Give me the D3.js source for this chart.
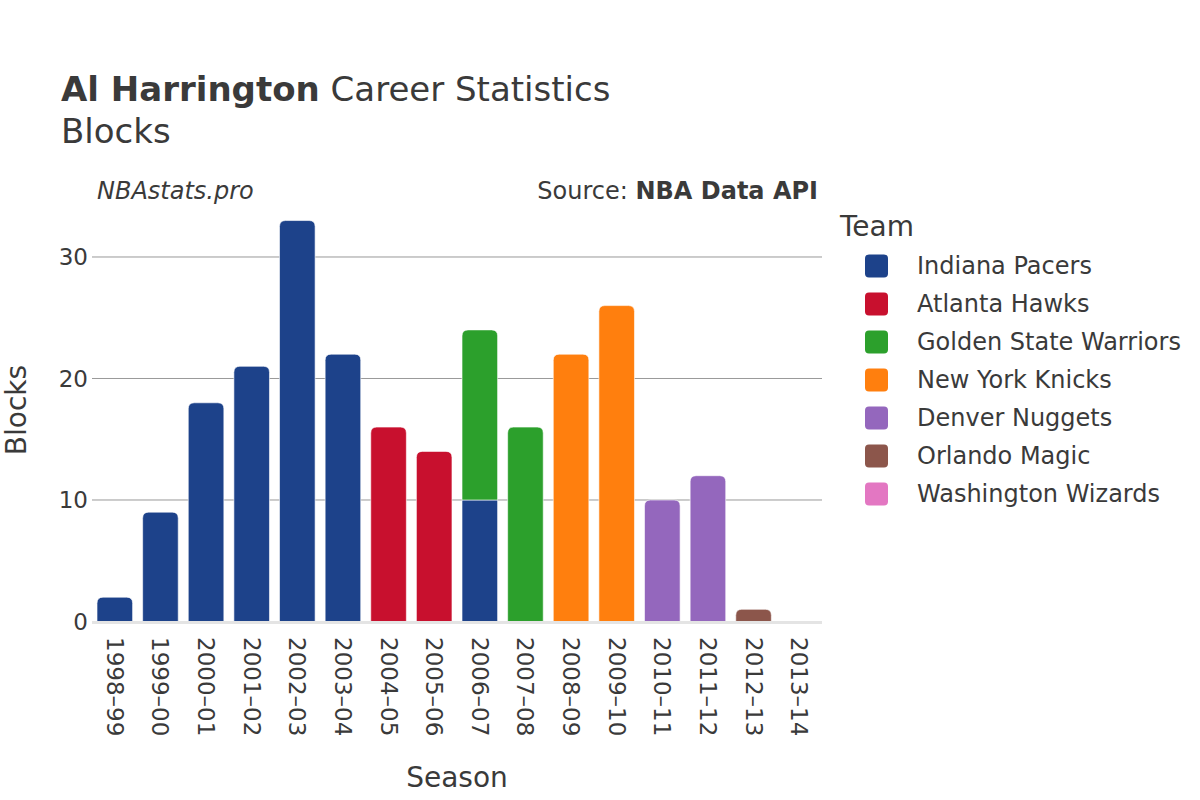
<!DOCTYPE html>
<html><head><meta charset="utf-8">
<script src="https://cdn.jsdelivr.net/npm/d3@7"></script>
<style>
body{margin:0;background:#fff;}
text{font-family:"DejaVu Sans",sans-serif;fill:#3a3a3a;}
</style></head>
<body><svg id="c" width="1200" height="800"></svg>
<script>
const seasons = ["1998–99","1999–00","2000–01","2001–02","2002–03","2003–04","2004–05","2005–06","2006–07","2007–08","2008–09","2009–10","2010–11","2011–12","2012–13","2013–14"];
const teams = ["Indiana Pacers","Atlanta Hawks","Golden State Warriors","New York Knicks","Denver Nuggets","Orlando Magic","Washington Wizards"];
const teamColors = ["#1d428a","#c8102e","#2ca02c","#ff7f0e","#9467bd","#8c564b","#e377c2"];
// blocks per season per team (same order as teams)
const pacers   = [2,9,18,21,33,22,0,0,10,0,0,0,0,0,0,0];
const hawks    = [0,0,0,0,0,0,16,14,0,0,0,0,0,0,0,0];
const warriors = [0,0,0,0,0,0,0,0,14,16,0,0,0,0,0,0];
const knicks   = [0,0,0,0,0,0,0,0,0,0,22,26,0,0,0,0];
const nuggets  = [0,0,0,0,0,0,0,0,0,0,0,0,10,12,0,0];
const magic    = [0,0,0,0,0,0,0,0,0,0,0,0,0,0,1,0];
const wizards  = [0,0,0,0,0,0,0,0,0,0,0,0,0,0,0,0];
const yTicks = [0,10,20,30];

const series = [pacers,hawks,warriors,knicks,nuggets,magic,wizards];
const svg = d3.select("#c");

const x = d3.scaleBand().domain(seasons).range([92,822]).paddingInner(0.22).paddingOuter(0.11);
const y = d3.scaleLinear().domain([0,34.69]).range([621.5,200]);
const color = d3.scaleOrdinal().domain(teams).range(teamColors);

// gridlines
svg.append("g").selectAll("line").data(yTicks.filter(d=>d>0)).join("line")
  .attr("x1",92).attr("x2",822).attr("y1",d=>y(d)).attr("y2",d=>y(d))
  .attr("stroke","#999").attr("stroke-width",1);

// stacked data
const rows = seasons.map((s,i)=>{const o={season:s}; teams.forEach((t,j)=>o[t]=series[j][i]); return o;});
const stack = d3.stack().keys(teams)(rows);

// find top segment per season for rounding
const topKey = {};
rows.forEach(r=>{ let k=null; teams.forEach(t=>{ if(r[t]>0) k=t; }); topKey[r.season]=k; });

function roundedTop(x0,y0,w,h,r){
  r=Math.min(r,h,w/2);
  return `M${x0},${y0+h}V${y0+r}Q${x0},${y0} ${x0+r},${y0}H${x0+w-r}Q${x0+w},${y0} ${x0+w},${y0+r}V${y0+h}Z`;
}

const bars = svg.append("g");
stack.forEach(layer=>{
  const key = layer.key;
  layer.forEach(d=>{
    const v = d[1]-d[0];
    if(v<=0) return;
    const x0 = x(d.data.season), w = x.bandwidth();
    const yt = y(d[1]), h = y(d[0]) - y(d[1]);
    const path = topKey[d.data.season]===key ? roundedTop(x0,yt,w,h,6) : `M${x0},${yt}h${w}v${h}h${-w}Z`;
    bars.append("path").attr("d",path).attr("fill",color(key))
      .attr("stroke","#fff").attr("stroke-width",0.6);
  });
});

// zero line
svg.append("line").attr("x1",92).attr("x2",822).attr("y1",y(0)+1).attr("y2",y(0)+1)
  .attr("stroke","#e4e4e4").attr("stroke-width",3);

// y axis labels
svg.append("g").selectAll("text").data(yTicks).join("text")
  .attr("x",88).attr("y",d=>y(d)).attr("dy","0.35em").attr("text-anchor","end")
  .style("font-size","23px").text(d=>d);

// x axis labels
svg.append("g").selectAll("text").data(seasons).join("text")
  .attr("transform",d=>`translate(${x(d)+x.bandwidth()/2},637) rotate(90)`)
  .attr("dy","0.35em").attr("text-anchor","start")
  .style("font-size","23px").text(d=>d);

// axis titles
svg.append("text").attr("x",457).attr("y",787).attr("text-anchor","middle").style("font-size","28px").text("Season");
svg.append("text").attr("transform","translate(26,410) rotate(-90)").attr("text-anchor","middle").style("font-size","28px").text("Blocks");

// titles
const t = svg.append("text").attr("x",61).attr("y",101).style("font-size","34px");
t.append("tspan").style("font-weight","bold").text("Al Harrington");
t.append("tspan").text(" Career Statistics");
svg.append("text").attr("x",61).attr("y",143).style("font-size","34px").text("Blocks");
svg.append("text").attr("x",97).attr("y",199).style("font-size","24px").style("font-style","italic").text("NBAstats.pro");
const s = svg.append("text").attr("x",818).attr("y",199).attr("text-anchor","end").style("font-size","24px");
s.append("tspan").text("Source: ");
s.append("tspan").style("font-weight","bold").text("NBA Data API");

// legend
svg.append("text").attr("x",840).attr("y",236).style("font-size","28px").text("Team");
const lg = svg.append("g").selectAll("g").data(teams).join("g")
  .attr("transform",(d,i)=>`translate(0,${266+i*38})`);
lg.append("rect").attr("x",865).attr("y",-11.5).attr("width",23).attr("height",23).attr("rx",4).attr("fill",d=>color(d));
lg.append("text").attr("x",917).attr("dy","0.35em").style("font-size","24px").text(d=>d);
</script></body></html>
